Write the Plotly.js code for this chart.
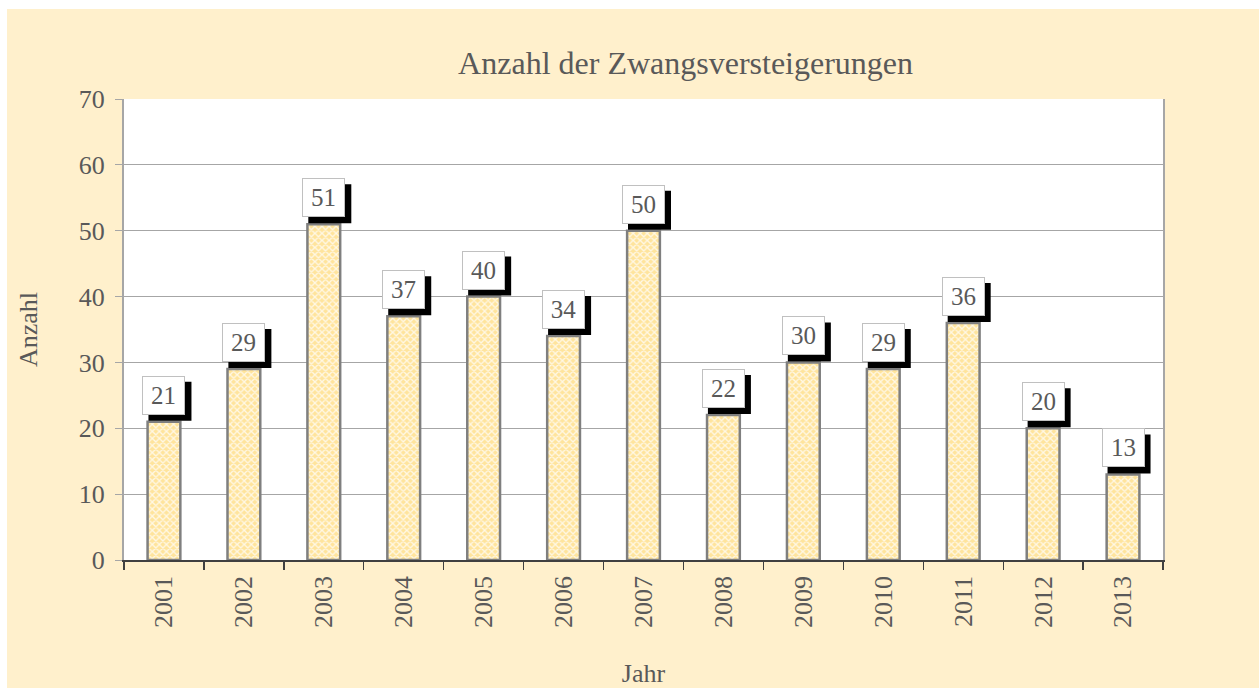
<!DOCTYPE html>
<html><head><meta charset="utf-8">
<script src="https://cdn.plot.ly/plotly-3.0.1.min.js"></script>
<style>
html,body{margin:0;padding:0;background:#ffffff;width:1259px;height:688px;overflow:hidden;}
#chart{position:absolute;left:7px;top:9px;width:1252px;height:679px;}
</style></head>
<body><div id="chart"></div>
<script>
const years = ['2001','2002','2003','2004','2005','2006','2007','2008','2009','2010','2011','2012','2013'];
const counts = [21,29,51,37,40,34,50,22,30,29,36,20,13];
const yTicks = [0,10,20,30,40,50,60,70];

const font = 'Liberation Serif, Times New Roman, serif';
const txt = '#595959';

const trace = {
  type: 'bar', x: years, y: counts, width: 0.41,
  marker: {
    color: '#ffe9b0',
    line: {color: '#7f7f7f', width: 2.5},
    pattern: {shape: 'x', size: 5, solidity: 0.45, fgcolor: '#fff8e6', bgcolor: '#ffe49c', fillmode: 'replace'}
  },
  hoverinfo: 'skip'
};

// label shadows as pixel-sized shapes anchored on each bar top
const shapes = years.map((yr, i) => ({
  type: 'rect', xref: 'x', yref: 'y', layer: 'above',
  xsizemode: 'pixel', ysizemode: 'pixel', xanchor: i, yanchor: counts[i],
  x0: -15.5, x1: 27.5, y0: 1, y1: 40,
  fillcolor: '#000000', line: {width: 0}
}));

const annotations = years.map((yr, i) => ({
  x: i, y: counts[i], xref: 'x', yref: 'y', text: String(counts[i]),
  showarrow: false, yanchor: 'bottom', yshift: 7,
  width: 41, height: 37, borderpad: 0, borderwidth: 1,
  bgcolor: '#ffffff', bordercolor: '#c0c0c0', font: {family: font, size: 25, color: txt}
}));

const layout = {
  width: 1252, height: 679,
  paper_bgcolor: '#fff0cc', plot_bgcolor: '#ffffff',
  margin: {l: 117, r: 96, t: 90, b: 128},
  showlegend: false,
  font: {family: font, color: txt},
  title: {text: 'Anzahl der Zwangsversteigerungen', font: {family: font, size: 32, color: txt},
          x: 0.542, xref: 'container', xanchor: 'center', y: 0.921, yref: 'container', yanchor: 'middle'},
  xaxis: {
    type: 'category', range: [-0.5, 12.5], tickangle: -90, tickson: 'boundaries', ticks: 'outside', ticklen: 8,
    tickcolor: '#404040', tickwidth: 1.3, ticklabelstandoff: 4,
    showline: true, linecolor: '#404040', linewidth: 1.5, mirror: false,
    tickfont: {family: font, size: 26, color: txt}, showgrid: false,
    title: {text: 'Jahr', font: {family: font, size: 26, color: txt}, standoff: 44}
  },
  yaxis: {
    range: [0, 70], tickvals: yTicks, ticktext: yTicks.map(String),
    ticks: 'outside', ticklen: 7, tickcolor: '#a6a6a6', ticklabelstandoff: 5,
    showline: true, linecolor: '#a6a6a6', linewidth: 2, mirror: true,
    gridcolor: '#a6a6a6', gridwidth: 1, zeroline: false,
    tickfont: {family: font, size: 26, color: txt},
    title: {text: 'Anzahl', font: {family: font, size: 26, color: txt}, standoff: 34}
  },
  shapes: shapes,
  annotations: annotations
};

Plotly.newPlot('chart', [trace], layout, {displayModeBar: false, staticPlot: true});
</script></body></html>
